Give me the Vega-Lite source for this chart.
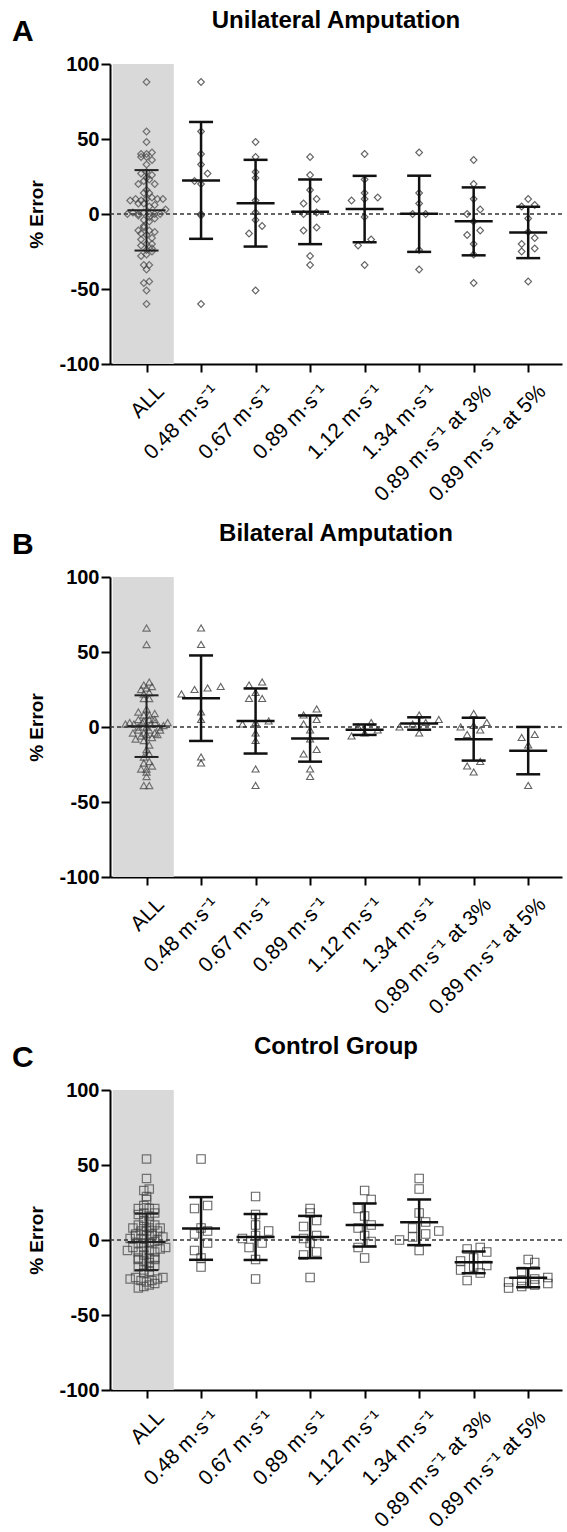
{
  "$schema": "https://vega.github.io/schema/vega-lite/v6.json",
  "background": "white",
  "padding": {"left": 11, "top": 9, "right": 2, "bottom": 0},
  "config": {
    "view": {"stroke": null},
    "font": "Liberation Sans",
    "axis": {"grid": false, "domainColor": "#000", "domainWidth": 2, "tickColor": "#000", "tickWidth": 2, "labelColor": "#000", "titleColor": "#000", "labelFont": "Liberation Sans", "titleFont": "Liberation Sans"},
    "axisX": {"labelAngle": -45, "labelAlign": "right", "labelBaseline": "middle", "labelFontSize": 21, "labelPadding": 16, "labelOffset": 14, "tickSize": 8, "labelOverlap": false, "labelBound": false, "labelFlush": false},
    "axisY": {"titleFontSize": 19, "titleFontWeight": "bold", "titlePadding": 12, "labelFontSize": 20, "labelFontWeight": "bold", "labelPadding": 2, "tickSize": 9},
    "title": {"font": "Liberation Sans", "color": "#000"},
    "concat": {"spacing": 17}
  },
  "datasets": {
    "pts": [
      {"p":"A","c":"0.48","v":88},{"p":"A","c":"0.48","v":55},{"p":"A","c":"0.48","v":40},{"p":"A","c":"0.48","v":33},{"p":"A","c":"0.48","v":27},{"p":"A","c":"0.48","v":22},{"p":"A","c":"0.48","v":20},{"p":"A","c":"0.48","v":0},{"p":"A","c":"0.48","v":-1},{"p":"A","c":"0.48","v":-60},
      {"p":"A","c":"0.67","v":48},{"p":"A","c":"0.67","v":38},{"p":"A","c":"0.67","v":28},{"p":"A","c":"0.67","v":24},{"p":"A","c":"0.67","v":9},{"p":"A","c":"0.67","v":1},{"p":"A","c":"0.67","v":-4},{"p":"A","c":"0.67","v":-8},{"p":"A","c":"0.67","v":-13},{"p":"A","c":"0.67","v":-51},
      {"p":"A","c":"0.89","v":38},{"p":"A","c":"0.89","v":26},{"p":"A","c":"0.89","v":16},{"p":"A","c":"0.89","v":10},{"p":"A","c":"0.89","v":7},{"p":"A","c":"0.89","v":1},{"p":"A","c":"0.89","v":0},{"p":"A","c":"0.89","v":-9},{"p":"A","c":"0.89","v":-11},{"p":"A","c":"0.89","v":-28},{"p":"A","c":"0.89","v":-34},
      {"p":"A","c":"1.12","v":40},{"p":"A","c":"1.12","v":23},{"p":"A","c":"1.12","v":14},{"p":"A","c":"1.12","v":10},{"p":"A","c":"1.12","v":11},{"p":"A","c":"1.12","v":9},{"p":"A","c":"1.12","v":-2},{"p":"A","c":"1.12","v":-17},{"p":"A","c":"1.12","v":-21},{"p":"A","c":"1.12","v":-34},
      {"p":"A","c":"1.34","v":41},{"p":"A","c":"1.34","v":14},{"p":"A","c":"1.34","v":7},{"p":"A","c":"1.34","v":0},{"p":"A","c":"1.34","v":0},{"p":"A","c":"1.34","v":-24},{"p":"A","c":"1.34","v":-37},
      {"p":"A","c":"3%","v":36},{"p":"A","c":"3%","v":20},{"p":"A","c":"3%","v":10},{"p":"A","c":"3%","v":3},{"p":"A","c":"3%","v":0},{"p":"A","c":"3%","v":-5},{"p":"A","c":"3%","v":-11},{"p":"A","c":"3%","v":-14},{"p":"A","c":"3%","v":-20},{"p":"A","c":"3%","v":-27},{"p":"A","c":"3%","v":-46},
      {"p":"A","c":"5%","v":10},{"p":"A","c":"5%","v":6},{"p":"A","c":"5%","v":5},{"p":"A","c":"5%","v":-3},{"p":"A","c":"5%","v":-12},{"p":"A","c":"5%","v":-16},{"p":"A","c":"5%","v":-20},{"p":"A","c":"5%","v":-23},{"p":"A","c":"5%","v":-25},{"p":"A","c":"5%","v":-45},

      {"p":"B","c":"0.48","v":66},{"p":"B","c":"0.48","v":55},{"p":"B","c":"0.48","v":27},{"p":"B","c":"0.48","v":26},{"p":"B","c":"0.48","v":25},{"p":"B","c":"0.48","v":22},{"p":"B","c":"0.48","v":10},{"p":"B","c":"0.48","v":5},{"p":"B","c":"0.48","v":-20},{"p":"B","c":"0.48","v":-24},
      {"p":"B","c":"0.67","v":30},{"p":"B","c":"0.67","v":28},{"p":"B","c":"0.67","v":23},{"p":"B","c":"0.67","v":19},{"p":"B","c":"0.67","v":19},{"p":"B","c":"0.67","v":4},{"p":"B","c":"0.67","v":3},{"p":"B","c":"0.67","v":2},{"p":"B","c":"0.67","v":-4},{"p":"B","c":"0.67","v":-9},{"p":"B","c":"0.67","v":-28},{"p":"B","c":"0.67","v":-39},
      {"p":"B","c":"0.89","v":12},{"p":"B","c":"0.89","v":8},{"p":"B","c":"0.89","v":5},{"p":"B","c":"0.89","v":2},{"p":"B","c":"0.89","v":-2},{"p":"B","c":"0.89","v":-8},{"p":"B","c":"0.89","v":-15},{"p":"B","c":"0.89","v":-18},{"p":"B","c":"0.89","v":-28},{"p":"B","c":"0.89","v":-33},
      {"p":"B","c":"1.12","v":3},{"p":"B","c":"1.12","v":0},{"p":"B","c":"1.12","v":-2},{"p":"B","c":"1.12","v":-4},{"p":"B","c":"1.12","v":-6},
      {"p":"B","c":"1.34","v":8},{"p":"B","c":"1.34","v":5},{"p":"B","c":"1.34","v":3},{"p":"B","c":"1.34","v":2},{"p":"B","c":"1.34","v":0},{"p":"B","c":"1.34","v":-4},
      {"p":"B","c":"3%","v":9},{"p":"B","c":"3%","v":3},{"p":"B","c":"3%","v":1},{"p":"B","c":"3%","v":0},{"p":"B","c":"3%","v":-2},{"p":"B","c":"3%","v":-5},{"p":"B","c":"3%","v":-23},{"p":"B","c":"3%","v":-26},{"p":"B","c":"3%","v":-30},
      {"p":"B","c":"5%","v":-5},{"p":"B","c":"5%","v":-7},{"p":"B","c":"5%","v":-12},{"p":"B","c":"5%","v":-39},

      {"p":"C","c":"0.48","v":54},{"p":"C","c":"0.48","v":23},{"p":"C","c":"0.48","v":21},{"p":"C","c":"0.48","v":8},{"p":"C","c":"0.48","v":6},{"p":"C","c":"0.48","v":4},{"p":"C","c":"0.48","v":-2},{"p":"C","c":"0.48","v":-7},{"p":"C","c":"0.48","v":-12},{"p":"C","c":"0.48","v":-18},
      {"p":"C","c":"0.67","v":29},{"p":"C","c":"0.67","v":17},{"p":"C","c":"0.67","v":10},{"p":"C","c":"0.67","v":6},{"p":"C","c":"0.67","v":3},{"p":"C","c":"0.67","v":1},{"p":"C","c":"0.67","v":-2},{"p":"C","c":"0.67","v":-5},{"p":"C","c":"0.67","v":-13},{"p":"C","c":"0.67","v":-26},
      {"p":"C","c":"0.89","v":21},{"p":"C","c":"0.89","v":18},{"p":"C","c":"0.89","v":13},{"p":"C","c":"0.89","v":9},{"p":"C","c":"0.89","v":3},{"p":"C","c":"0.89","v":1},{"p":"C","c":"0.89","v":-2},{"p":"C","c":"0.89","v":-8},{"p":"C","c":"0.89","v":-10},{"p":"C","c":"0.89","v":-25},
      {"p":"C","c":"1.12","v":33},{"p":"C","c":"1.12","v":27},{"p":"C","c":"1.12","v":21},{"p":"C","c":"1.12","v":16},{"p":"C","c":"1.12","v":10},{"p":"C","c":"1.12","v":8},{"p":"C","c":"1.12","v":3},{"p":"C","c":"1.12","v":-1},{"p":"C","c":"1.12","v":-5},{"p":"C","c":"1.12","v":-12},
      {"p":"C","c":"1.34","v":41},{"p":"C","c":"1.34","v":34},{"p":"C","c":"1.34","v":18},{"p":"C","c":"1.34","v":12},{"p":"C","c":"1.34","v":8},{"p":"C","c":"1.34","v":6},{"p":"C","c":"1.34","v":4},{"p":"C","c":"1.34","v":2},{"p":"C","c":"1.34","v":0},{"p":"C","c":"1.34","v":-7},
      {"p":"C","c":"3%","v":-5},{"p":"C","c":"3%","v":-6},{"p":"C","c":"3%","v":-8},{"p":"C","c":"3%","v":-12},{"p":"C","c":"3%","v":-14},{"p":"C","c":"3%","v":-17},{"p":"C","c":"3%","v":-18},{"p":"C","c":"3%","v":-20},{"p":"C","c":"3%","v":-22},{"p":"C","c":"3%","v":-27},
      {"p":"C","c":"5%","v":-13},{"p":"C","c":"5%","v":-15},{"p":"C","c":"5%","v":-21},{"p":"C","c":"5%","v":-25},{"p":"C","c":"5%","v":-26},{"p":"C","c":"5%","v":-27},{"p":"C","c":"5%","v":-28},{"p":"C","c":"5%","v":-29},{"p":"C","c":"5%","v":-30},{"p":"C","c":"5%","v":-31},{"p":"C","c":"5%","v":-32}
    ]
  },
  "vconcat": [
    {
      "title": {"text": "A", "anchor": "start", "frame": "bounds", "fontSize": 30, "fontWeight": "bold", "offset": -38, "dx": -16},
      "vconcat": [{
        "width": 452, "height": 300,
        "title": {"text": "Unilateral Amputation", "fontSize": 24, "fontWeight": "bold", "anchor": "middle", "frame": "group", "offset": 21},
        "layer": [
          {"data": {"values": [{}]}, "mark": {"type": "rect", "color": "#d9d9d9"},
           "encoding": {
             "x": {"datum": -0.62, "type": "quantitative", "scale": {"domain": [-0.67, 7.62], "nice": false, "zero": false},
                   "axis": {"values": [0,1,2,3,4,5,6,7], "labelExpr": "['ALL','0.48 m·s⁻¹','0.67 m·s⁻¹','0.89 m·s⁻¹','1.12 m·s⁻¹','1.34 m·s⁻¹','0.89 m·s⁻¹ at 3%','0.89 m·s⁻¹ at 5%'][datum.value]", "title": null}},
             "x2": {"datum": 0.5},
             "y": {"datum": 100, "type": "quantitative", "scale": {"domain": [-100, 100], "nice": false},
                   "axis": {"values": [-100,-50,0,50,100], "labelExpr": "'' + datum.value", "title": "% Error"}},
             "y2": {"datum": -100}
           }},
          {"data": {"values": [{}]}, "mark": {"type": "rule", "strokeDash": [4, 3], "color": "#333", "strokeWidth": 1.3}, "encoding": {"y": {"datum": 0, "type": "quantitative"}}},
          {"data": {"name": "pts"},
           "transform": [{"filter": "datum.p === 'A'"}, {"calculate": "floor(datum.v / 4)", "as": "b"}, {"joinaggregate": [{"op": "count", "as": "n"}], "groupby": ["b"]}, {"window": [{"op": "row_number", "as": "r"}], "groupby": ["b"], "sort": [{"field": "c"}, {"field": "v"}]}, {"calculate": "(datum.r - 1 - (datum.n - 1) / 2) * min(0.1, 0.85 / datum.n)", "as": "xp"}],
           "mark": {"type": "point", "shape": "diamond", "size": 45, "filled": false, "color": "#444", "strokeWidth": 1.2},
           "encoding": {"x": {"field": "xp", "type": "quantitative"}, "y": {"field": "v", "type": "quantitative"}}},
          {"data": {"name": "pts"},
           "transform": [{"filter": "datum.p === 'A'"}, {"calculate": "floor(datum.v / 7)", "as": "b"}, {"joinaggregate": [{"op": "count", "as": "n"}], "groupby": ["c", "b"]}, {"window": [{"op": "row_number", "as": "r"}], "groupby": ["c", "b"], "sort": [{"field": "v"}]}, {"calculate": "indexof(['ALL','0.48','0.67','0.89','1.12','1.34','3%','5%'], datum.c) + (datum.r - 1 - (datum.n - 1) / 2) * 0.24", "as": "xp"}],
           "mark": {"type": "point", "shape": "diamond", "size": 45, "filled": false, "color": "#222", "strokeWidth": 1.1},
           "encoding": {"x": {"field": "xp", "type": "quantitative"}, "y": {"field": "v", "type": "quantitative"}}},
          {"data": {"name": "pts"},
           "transform": [{"filter": "datum.p === 'A'"}, {"aggregate": [{"op": "mean", "field": "v", "as": "m"}, {"op": "stdev", "field": "v", "as": "sd"}], "groupby": ["c"]}, {"calculate": "indexof(['ALL','0.48','0.67','0.89','1.12','1.34','3%','5%'], datum.c)", "as": "idx"}, {"calculate": "datum.m - datum.sd", "as": "lo"}, {"calculate": "datum.m + datum.sd", "as": "hi"}],
           "layer": [
             {"mark": {"type": "rule", "color": "#111", "strokeWidth": 2.5}, "encoding": {"x": {"field": "idx", "type": "quantitative"}, "y": {"field": "lo", "type": "quantitative"}, "y2": {"field": "hi"}}},
             {"mark": {"type": "tick", "orient": "horizontal", "size": 24, "thickness": 2.5, "color": "#111", "opacity": 1}, "encoding": {"x": {"field": "idx", "type": "quantitative"}, "y": {"field": "lo", "type": "quantitative"}}},
             {"mark": {"type": "tick", "orient": "horizontal", "size": 24, "thickness": 2.5, "color": "#111", "opacity": 1}, "encoding": {"x": {"field": "idx", "type": "quantitative"}, "y": {"field": "hi", "type": "quantitative"}}},
             {"mark": {"type": "tick", "orient": "horizontal", "size": 38, "thickness": 2.5, "color": "#111", "opacity": 1}, "encoding": {"x": {"field": "idx", "type": "quantitative"}, "y": {"field": "m", "type": "quantitative"}}}
           ]},
          {"data": {"name": "pts"},
           "transform": [{"filter": "datum.p === 'A'"}, {"aggregate": [{"op": "mean", "field": "v", "as": "m"}, {"op": "stdev", "field": "v", "as": "sd"}]}, {"calculate": "0", "as": "idx"}, {"calculate": "datum.m - datum.sd", "as": "lo"}, {"calculate": "datum.m + datum.sd", "as": "hi"}],
           "layer": [
             {"mark": {"type": "rule", "color": "#222", "strokeWidth": 2}, "encoding": {"x": {"field": "idx", "type": "quantitative"}, "y": {"field": "lo", "type": "quantitative"}, "y2": {"field": "hi"}}},
             {"mark": {"type": "tick", "orient": "horizontal", "size": 24, "thickness": 2, "color": "#222", "opacity": 1}, "encoding": {"x": {"field": "idx", "type": "quantitative"}, "y": {"field": "lo", "type": "quantitative"}}},
             {"mark": {"type": "tick", "orient": "horizontal", "size": 24, "thickness": 2, "color": "#222", "opacity": 1}, "encoding": {"x": {"field": "idx", "type": "quantitative"}, "y": {"field": "hi", "type": "quantitative"}}},
             {"mark": {"type": "tick", "orient": "horizontal", "size": 38, "thickness": 2, "color": "#222", "opacity": 1}, "encoding": {"x": {"field": "idx", "type": "quantitative"}, "y": {"field": "m", "type": "quantitative"}}}
           ]}
        ]
      }]
    },
    {
      "title": {"text": "B", "anchor": "start", "frame": "bounds", "fontSize": 30, "fontWeight": "bold", "offset": -38, "dx": -16},
      "vconcat": [{
        "width": 452, "height": 300,
        "title": {"text": "Bilateral Amputation", "fontSize": 24, "fontWeight": "bold", "anchor": "middle", "frame": "group", "offset": 21},
        "layer": [
          {"data": {"values": [{}]}, "mark": {"type": "rect", "color": "#d9d9d9"},
           "encoding": {
             "x": {"datum": -0.62, "type": "quantitative", "scale": {"domain": [-0.67, 7.62], "nice": false, "zero": false},
                   "axis": {"values": [0,1,2,3,4,5,6,7], "labelExpr": "['ALL','0.48 m·s⁻¹','0.67 m·s⁻¹','0.89 m·s⁻¹','1.12 m·s⁻¹','1.34 m·s⁻¹','0.89 m·s⁻¹ at 3%','0.89 m·s⁻¹ at 5%'][datum.value]", "title": null}},
             "x2": {"datum": 0.5},
             "y": {"datum": 100, "type": "quantitative", "scale": {"domain": [-100, 100], "nice": false},
                   "axis": {"values": [-100,-50,0,50,100], "labelExpr": "'' + datum.value", "title": "% Error"}},
             "y2": {"datum": -100}
           }},
          {"data": {"values": [{}]}, "mark": {"type": "rule", "strokeDash": [4, 3], "color": "#333", "strokeWidth": 1.3}, "encoding": {"y": {"datum": 0, "type": "quantitative"}}},
          {"data": {"name": "pts"},
           "transform": [{"filter": "datum.p === 'B'"}, {"calculate": "floor(datum.v / 4)", "as": "b"}, {"joinaggregate": [{"op": "count", "as": "n"}], "groupby": ["b"]}, {"window": [{"op": "row_number", "as": "r"}], "groupby": ["b"], "sort": [{"field": "c"}, {"field": "v"}]}, {"calculate": "(datum.r - 1 - (datum.n - 1) / 2) * min(0.1, 0.85 / datum.n)", "as": "xp"}],
           "mark": {"type": "point", "shape": "triangle-up", "size": 50, "filled": false, "color": "#444", "strokeWidth": 1.2},
           "encoding": {"x": {"field": "xp", "type": "quantitative"}, "y": {"field": "v", "type": "quantitative"}}},
          {"data": {"name": "pts"},
           "transform": [{"filter": "datum.p === 'B'"}, {"calculate": "floor(datum.v / 7)", "as": "b"}, {"joinaggregate": [{"op": "count", "as": "n"}], "groupby": ["c", "b"]}, {"window": [{"op": "row_number", "as": "r"}], "groupby": ["c", "b"], "sort": [{"field": "v"}]}, {"calculate": "indexof(['ALL','0.48','0.67','0.89','1.12','1.34','3%','5%'], datum.c) + (datum.r - 1 - (datum.n - 1) / 2) * 0.24", "as": "xp"}],
           "mark": {"type": "point", "shape": "triangle-up", "size": 50, "filled": false, "color": "#222", "strokeWidth": 1.1},
           "encoding": {"x": {"field": "xp", "type": "quantitative"}, "y": {"field": "v", "type": "quantitative"}}},
          {"data": {"name": "pts"},
           "transform": [{"filter": "datum.p === 'B'"}, {"aggregate": [{"op": "mean", "field": "v", "as": "m"}, {"op": "stdev", "field": "v", "as": "sd"}], "groupby": ["c"]}, {"calculate": "indexof(['ALL','0.48','0.67','0.89','1.12','1.34','3%','5%'], datum.c)", "as": "idx"}, {"calculate": "datum.m - datum.sd", "as": "lo"}, {"calculate": "datum.m + datum.sd", "as": "hi"}],
           "layer": [
             {"mark": {"type": "rule", "color": "#111", "strokeWidth": 2.5}, "encoding": {"x": {"field": "idx", "type": "quantitative"}, "y": {"field": "lo", "type": "quantitative"}, "y2": {"field": "hi"}}},
             {"mark": {"type": "tick", "orient": "horizontal", "size": 24, "thickness": 2.5, "color": "#111", "opacity": 1}, "encoding": {"x": {"field": "idx", "type": "quantitative"}, "y": {"field": "lo", "type": "quantitative"}}},
             {"mark": {"type": "tick", "orient": "horizontal", "size": 24, "thickness": 2.5, "color": "#111", "opacity": 1}, "encoding": {"x": {"field": "idx", "type": "quantitative"}, "y": {"field": "hi", "type": "quantitative"}}},
             {"mark": {"type": "tick", "orient": "horizontal", "size": 38, "thickness": 2.5, "color": "#111", "opacity": 1}, "encoding": {"x": {"field": "idx", "type": "quantitative"}, "y": {"field": "m", "type": "quantitative"}}}
           ]},
          {"data": {"name": "pts"},
           "transform": [{"filter": "datum.p === 'B'"}, {"aggregate": [{"op": "mean", "field": "v", "as": "m"}, {"op": "stdev", "field": "v", "as": "sd"}]}, {"calculate": "0", "as": "idx"}, {"calculate": "datum.m - datum.sd", "as": "lo"}, {"calculate": "datum.m + datum.sd", "as": "hi"}],
           "layer": [
             {"mark": {"type": "rule", "color": "#222", "strokeWidth": 2}, "encoding": {"x": {"field": "idx", "type": "quantitative"}, "y": {"field": "lo", "type": "quantitative"}, "y2": {"field": "hi"}}},
             {"mark": {"type": "tick", "orient": "horizontal", "size": 24, "thickness": 2, "color": "#222", "opacity": 1}, "encoding": {"x": {"field": "idx", "type": "quantitative"}, "y": {"field": "lo", "type": "quantitative"}}},
             {"mark": {"type": "tick", "orient": "horizontal", "size": 24, "thickness": 2, "color": "#222", "opacity": 1}, "encoding": {"x": {"field": "idx", "type": "quantitative"}, "y": {"field": "hi", "type": "quantitative"}}},
             {"mark": {"type": "tick", "orient": "horizontal", "size": 38, "thickness": 2, "color": "#222", "opacity": 1}, "encoding": {"x": {"field": "idx", "type": "quantitative"}, "y": {"field": "m", "type": "quantitative"}}}
           ]}
        ]
      }]
    },
    {
      "title": {"text": "C", "anchor": "start", "frame": "bounds", "fontSize": 30, "fontWeight": "bold", "offset": -38, "dx": -16},
      "vconcat": [{
        "width": 452, "height": 300,
        "title": {"text": "Control Group", "fontSize": 24, "fontWeight": "bold", "anchor": "middle", "frame": "group", "offset": 21},
        "layer": [
          {"data": {"values": [{}]}, "mark": {"type": "rect", "color": "#d9d9d9"},
           "encoding": {
             "x": {"datum": -0.62, "type": "quantitative", "scale": {"domain": [-0.67, 7.62], "nice": false, "zero": false},
                   "axis": {"values": [0,1,2,3,4,5,6,7], "labelExpr": "['ALL','0.48 m·s⁻¹','0.67 m·s⁻¹','0.89 m·s⁻¹','1.12 m·s⁻¹','1.34 m·s⁻¹','0.89 m·s⁻¹ at 3%','0.89 m·s⁻¹ at 5%'][datum.value]", "title": null}},
             "x2": {"datum": 0.5},
             "y": {"datum": 100, "type": "quantitative", "scale": {"domain": [-100, 100], "nice": false},
                   "axis": {"values": [-100,-50,0,50,100], "labelExpr": "'' + datum.value", "title": "% Error"}},
             "y2": {"datum": -100}
           }},
          {"data": {"values": [{}]}, "mark": {"type": "rule", "strokeDash": [4, 3], "color": "#333", "strokeWidth": 1.3}, "encoding": {"y": {"datum": 0, "type": "quantitative"}}},
          {"data": {"name": "pts"},
           "transform": [{"filter": "datum.p === 'C'"}, {"calculate": "floor(datum.v / 4)", "as": "b"}, {"joinaggregate": [{"op": "count", "as": "n"}], "groupby": ["b"]}, {"window": [{"op": "row_number", "as": "r"}], "groupby": ["b"], "sort": [{"field": "c"}, {"field": "v"}]}, {"calculate": "(datum.r - 1 - (datum.n - 1) / 2) * min(0.1, 0.85 / datum.n)", "as": "xp"}],
           "mark": {"type": "point", "shape": "square", "size": 70, "filled": false, "color": "#444", "strokeWidth": 1.2},
           "encoding": {"x": {"field": "xp", "type": "quantitative"}, "y": {"field": "v", "type": "quantitative"}}},
          {"data": {"name": "pts"},
           "transform": [{"filter": "datum.p === 'C'"}, {"calculate": "floor(datum.v / 7)", "as": "b"}, {"joinaggregate": [{"op": "count", "as": "n"}], "groupby": ["c", "b"]}, {"window": [{"op": "row_number", "as": "r"}], "groupby": ["c", "b"], "sort": [{"field": "v"}]}, {"calculate": "indexof(['ALL','0.48','0.67','0.89','1.12','1.34','3%','5%'], datum.c) + (datum.r - 1 - (datum.n - 1) / 2) * 0.24", "as": "xp"}],
           "mark": {"type": "point", "shape": "square", "size": 70, "filled": false, "color": "#222", "strokeWidth": 1.1},
           "encoding": {"x": {"field": "xp", "type": "quantitative"}, "y": {"field": "v", "type": "quantitative"}}},
          {"data": {"name": "pts"},
           "transform": [{"filter": "datum.p === 'C'"}, {"aggregate": [{"op": "mean", "field": "v", "as": "m"}, {"op": "stdev", "field": "v", "as": "sd"}], "groupby": ["c"]}, {"calculate": "indexof(['ALL','0.48','0.67','0.89','1.12','1.34','3%','5%'], datum.c)", "as": "idx"}, {"calculate": "datum.m - datum.sd", "as": "lo"}, {"calculate": "datum.m + datum.sd", "as": "hi"}],
           "layer": [
             {"mark": {"type": "rule", "color": "#111", "strokeWidth": 2.5}, "encoding": {"x": {"field": "idx", "type": "quantitative"}, "y": {"field": "lo", "type": "quantitative"}, "y2": {"field": "hi"}}},
             {"mark": {"type": "tick", "orient": "horizontal", "size": 24, "thickness": 2.5, "color": "#111", "opacity": 1}, "encoding": {"x": {"field": "idx", "type": "quantitative"}, "y": {"field": "lo", "type": "quantitative"}}},
             {"mark": {"type": "tick", "orient": "horizontal", "size": 24, "thickness": 2.5, "color": "#111", "opacity": 1}, "encoding": {"x": {"field": "idx", "type": "quantitative"}, "y": {"field": "hi", "type": "quantitative"}}},
             {"mark": {"type": "tick", "orient": "horizontal", "size": 38, "thickness": 2.5, "color": "#111", "opacity": 1}, "encoding": {"x": {"field": "idx", "type": "quantitative"}, "y": {"field": "m", "type": "quantitative"}}}
           ]},
          {"data": {"name": "pts"},
           "transform": [{"filter": "datum.p === 'C'"}, {"aggregate": [{"op": "mean", "field": "v", "as": "m"}, {"op": "stdev", "field": "v", "as": "sd"}]}, {"calculate": "0", "as": "idx"}, {"calculate": "datum.m - datum.sd", "as": "lo"}, {"calculate": "datum.m + datum.sd", "as": "hi"}],
           "layer": [
             {"mark": {"type": "rule", "color": "#222", "strokeWidth": 2}, "encoding": {"x": {"field": "idx", "type": "quantitative"}, "y": {"field": "lo", "type": "quantitative"}, "y2": {"field": "hi"}}},
             {"mark": {"type": "tick", "orient": "horizontal", "size": 24, "thickness": 2, "color": "#222", "opacity": 1}, "encoding": {"x": {"field": "idx", "type": "quantitative"}, "y": {"field": "lo", "type": "quantitative"}}},
             {"mark": {"type": "tick", "orient": "horizontal", "size": 24, "thickness": 2, "color": "#222", "opacity": 1}, "encoding": {"x": {"field": "idx", "type": "quantitative"}, "y": {"field": "hi", "type": "quantitative"}}},
             {"mark": {"type": "tick", "orient": "horizontal", "size": 38, "thickness": 2, "color": "#222", "opacity": 1}, "encoding": {"x": {"field": "idx", "type": "quantitative"}, "y": {"field": "m", "type": "quantitative"}}}
           ]}
        ]
      }]
    }
  ]
}
